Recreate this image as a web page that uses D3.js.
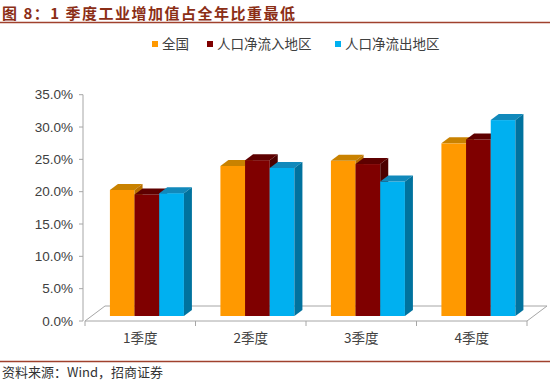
<!DOCTYPE html>
<html><head><meta charset="utf-8">
<script src="https://cdn.jsdelivr.net/npm/d3@7"></script>
<style>
html,body{margin:0;padding:0;background:#fff;}
svg{display:block;}
</style></head>
<body>
<script>
const categories = ["1季度","2季度","3季度","4季度"];
const seriesNames = ["全国","人口净流入地区","人口净流出地区"];
const national = [19.5, 23.2, 24.0, 26.7];
const inflow = [18.8, 24.1, 23.5, 27.3];
const outflow = [19.0, 22.9, 20.8, 30.3];
const yTicks = [0,5,10,15,20,25,30,35];

const colors = [
  {front:"#FF9900", top:"#C98200", side:"#B86F00"},
  {front:"#7F0000", top:"#5E0000", side:"#4C0000"},
  {front:"#00B0F0", top:"#1189BB", side:"#00729E"}
];
const series = [national, inflow, outflow];

const W=550,H=381;
const svg=d3.select("body").append("svg").attr("width",W).attr("height",H);
const CJK='"Noto Sans CJK SC","Noto Sans",sans-serif';
const LAT='"Liberation Sans",Arial,sans-serif';

// Title
svg.append("text").attr("x",2).attr("y",18.5)
  .attr("font-family",CJK).attr("font-weight","bold").attr("font-size",15)
  .attr("fill","#8B2E16").attr("letter-spacing","1.5px")
  .text("图 8：1 季度工业增加值占全年比重最低");
svg.append("line").attr("x1",0).attr("x2",W).attr("y1",22.5).attr("y2",22.5)
  .attr("stroke","#A0412D").attr("stroke-width",1.5);

// Legend
const legendX=[152,207,335];
seriesNames.forEach((n,i)=>{
  svg.append("rect").attr("x",legendX[i]).attr("y",41).attr("width",6).attr("height",6)
    .attr("fill",colors[i].front);
  svg.append("text").attr("x",legendX[i]+10).attr("y",49)
    .attr("font-family",CJK).attr("font-size",13.5).attr("fill","#404040").text(n);
});

// Scales
const floorFront=321, depthDx=20, depthDy=-15;
const x=d3.scaleBand().domain(categories).range([85,527]).padding(0);
const y=d3.scaleLinear().domain([0,35]).range([floorFront,94.7]);
const groupW=74;
const xs=d3.scaleBand().domain(d3.range(3)).range([0,groupW]).padding(0);
const planeDx=depthDx/3, planeDy=depthDy/3;  // bar front plane offset
const barDx=8, barDy=-6;  // bar depth

// Floor
const floor=svg.append("g").attr("stroke","#A6A6A6").attr("stroke-width",1).attr("fill","none");
const xL=x.range()[0], xR=x.range()[1];
floor.append("path").attr("d",
  `M${xL},${floorFront}L${xR},${floorFront}L${xR+depthDx},${floorFront+depthDy}L${xL+depthDx},${floorFront+depthDy}Z`);

// X ticks
const xtickPos=categories.map(c=>x(c)).concat([xR]);
svg.append("g").selectAll("line").data(xtickPos).join("line")
  .attr("x1",d=>d).attr("x2",d=>d).attr("y1",floorFront).attr("y2",floorFront+5)
  .attr("stroke","#A6A6A6");

// Y axis
const yAxisX=83;
svg.append("line").attr("x1",yAxisX).attr("x2",yAxisX).attr("y1",y(35)).attr("y2",floorFront)
  .attr("stroke","#A6A6A6");
const yt=svg.append("g");
yt.selectAll("line").data(yTicks).join("line")
  .attr("x1",yAxisX-4).attr("x2",yAxisX).attr("y1",d=>y(d)).attr("y2",d=>y(d)).attr("stroke","#A6A6A6");
yt.selectAll("text").data(yTicks).join("text")
  .attr("x",73).attr("y",d=>y(d)).attr("dy","0.35em").attr("text-anchor","end")
  .attr("font-family",LAT).attr("font-size",13.5).attr("fill","#404040")
  .text(d=>d.toFixed(1)+"%");

// X labels
svg.append("g").selectAll("text").data(categories).join("text")
  .attr("x",d=>x(d)+x.bandwidth()/2).attr("y",338).attr("dy","0.35em").attr("text-anchor","middle")
  .attr("font-family",CJK).attr("font-size",13.5).attr("fill","#404040")
  .text(d=>d);

// Bars
const bars=svg.append("g");
categories.forEach((c,ci)=>{
  series.forEach((s,si)=>{
    const v=s[ci];
    const x0=x(c)+(x.bandwidth()-groupW)/2+xs(si)+planeDx;
    const w=xs.bandwidth();
    const yb=floorFront+planeDy;
    const yt0=y(v)+planeDy;
    const col=colors[si];
    bars.append("rect").attr("x",x0).attr("y",yt0).attr("width",w).attr("height",yb-yt0).attr("fill",col.front);
    bars.append("path").attr("d",`M${x0},${yt0}L${x0+barDx},${yt0+barDy}L${x0+w+barDx},${yt0+barDy}L${x0+w},${yt0}Z`).attr("fill",col.top);
    bars.append("path").attr("d",`M${x0+w},${yt0}L${x0+w+barDx},${yt0+barDy}L${x0+w+barDx},${yb+barDy}L${x0+w},${yb}Z`).attr("fill",col.side);
  });
});

// Source
svg.append("line").attr("x1",0).attr("x2",W).attr("y1",361.5).attr("y2",361.5)
  .attr("stroke","#A0412D").attr("stroke-width",1.5);
svg.append("text").attr("x",2).attr("y",377)
  .attr("font-family",CJK).attr("font-size",13).attr("fill","#333")
  .text("资料来源：Wind，招商证券");
</script>
</body></html>
